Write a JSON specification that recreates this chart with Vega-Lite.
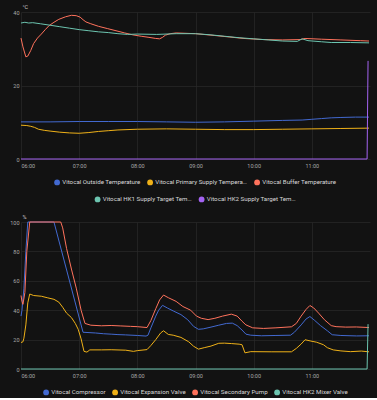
{
  "$schema": "https://vega.github.io/schema/vega-lite/v6.json",
  "background": "#121212",
  "padding": {"left": 9, "top": 4, "right": 8, "bottom": 2},
  "spacing": 11,
  "datasets": {
    "top1": [
      {"s": "Vitocal Outside Temperature", "t": "06:00", "v": 10.1},
      {"s": "Vitocal Outside Temperature", "t": "06:30", "v": 10.1},
      {"s": "Vitocal Outside Temperature", "t": "07:00", "v": 10.2},
      {"s": "Vitocal Outside Temperature", "t": "07:30", "v": 10.2},
      {"s": "Vitocal Outside Temperature", "t": "08:00", "v": 10.2},
      {"s": "Vitocal Outside Temperature", "t": "08:30", "v": 10.1},
      {"s": "Vitocal Outside Temperature", "t": "09:00", "v": 10.0},
      {"s": "Vitocal Outside Temperature", "t": "09:30", "v": 10.1},
      {"s": "Vitocal Outside Temperature", "t": "10:00", "v": 10.3},
      {"s": "Vitocal Outside Temperature", "t": "10:30", "v": 10.5},
      {"s": "Vitocal Outside Temperature", "t": "10:50", "v": 10.6},
      {"s": "Vitocal Outside Temperature", "t": "11:00", "v": 10.8},
      {"s": "Vitocal Outside Temperature", "t": "11:10", "v": 11.0},
      {"s": "Vitocal Outside Temperature", "t": "11:20", "v": 11.2},
      {"s": "Vitocal Outside Temperature", "t": "11:30", "v": 11.3},
      {"s": "Vitocal Outside Temperature", "t": "11:45", "v": 11.4},
      {"s": "Vitocal Outside Temperature", "t": "11:59", "v": 11.4},
      {"s": "Vitocal Primary Supply Temperature", "t": "06:00", "v": 9.2},
      {"s": "Vitocal Primary Supply Temperature", "t": "06:06", "v": 9.1},
      {"s": "Vitocal Primary Supply Temperature", "t": "06:10", "v": 8.9},
      {"s": "Vitocal Primary Supply Temperature", "t": "06:14", "v": 8.6},
      {"s": "Vitocal Primary Supply Temperature", "t": "06:18", "v": 8.1},
      {"s": "Vitocal Primary Supply Temperature", "t": "06:24", "v": 7.8},
      {"s": "Vitocal Primary Supply Temperature", "t": "06:30", "v": 7.6},
      {"s": "Vitocal Primary Supply Temperature", "t": "06:40", "v": 7.3},
      {"s": "Vitocal Primary Supply Temperature", "t": "06:50", "v": 7.1},
      {"s": "Vitocal Primary Supply Temperature", "t": "07:00", "v": 7.0},
      {"s": "Vitocal Primary Supply Temperature", "t": "07:10", "v": 7.2},
      {"s": "Vitocal Primary Supply Temperature", "t": "07:20", "v": 7.5},
      {"s": "Vitocal Primary Supply Temperature", "t": "07:30", "v": 7.7},
      {"s": "Vitocal Primary Supply Temperature", "t": "07:40", "v": 7.9},
      {"s": "Vitocal Primary Supply Temperature", "t": "08:00", "v": 8.1},
      {"s": "Vitocal Primary Supply Temperature", "t": "08:30", "v": 8.2},
      {"s": "Vitocal Primary Supply Temperature", "t": "09:00", "v": 8.1},
      {"s": "Vitocal Primary Supply Temperature", "t": "09:30", "v": 8.0},
      {"s": "Vitocal Primary Supply Temperature", "t": "10:00", "v": 8.0},
      {"s": "Vitocal Primary Supply Temperature", "t": "10:30", "v": 8.1},
      {"s": "Vitocal Primary Supply Temperature", "t": "11:00", "v": 8.2},
      {"s": "Vitocal Primary Supply Temperature", "t": "11:30", "v": 8.3},
      {"s": "Vitocal Primary Supply Temperature", "t": "11:59", "v": 8.4},
      {"s": "Vitocal Buffer Temperature", "t": "06:00", "v": 32.9},
      {"s": "Vitocal Buffer Temperature", "t": "06:02", "v": 30.5},
      {"s": "Vitocal Buffer Temperature", "t": "06:05", "v": 27.8},
      {"s": "Vitocal Buffer Temperature", "t": "06:07", "v": 28.0},
      {"s": "Vitocal Buffer Temperature", "t": "06:10", "v": 29.5},
      {"s": "Vitocal Buffer Temperature", "t": "06:13", "v": 31.4},
      {"s": "Vitocal Buffer Temperature", "t": "06:17", "v": 32.9},
      {"s": "Vitocal Buffer Temperature", "t": "06:21", "v": 34.0},
      {"s": "Vitocal Buffer Temperature", "t": "06:25", "v": 35.2},
      {"s": "Vitocal Buffer Temperature", "t": "06:29", "v": 36.3},
      {"s": "Vitocal Buffer Temperature", "t": "06:34", "v": 37.2},
      {"s": "Vitocal Buffer Temperature", "t": "06:39", "v": 38.0},
      {"s": "Vitocal Buffer Temperature", "t": "06:46", "v": 38.7},
      {"s": "Vitocal Buffer Temperature", "t": "06:52", "v": 39.1},
      {"s": "Vitocal Buffer Temperature", "t": "06:57", "v": 39.0},
      {"s": "Vitocal Buffer Temperature", "t": "07:01", "v": 38.6},
      {"s": "Vitocal Buffer Temperature", "t": "07:04", "v": 37.9},
      {"s": "Vitocal Buffer Temperature", "t": "07:07", "v": 37.3},
      {"s": "Vitocal Buffer Temperature", "t": "07:12", "v": 36.8},
      {"s": "Vitocal Buffer Temperature", "t": "07:20", "v": 36.1},
      {"s": "Vitocal Buffer Temperature", "t": "07:29", "v": 35.5},
      {"s": "Vitocal Buffer Temperature", "t": "07:38", "v": 34.9},
      {"s": "Vitocal Buffer Temperature", "t": "07:47", "v": 34.3},
      {"s": "Vitocal Buffer Temperature", "t": "07:55", "v": 33.8},
      {"s": "Vitocal Buffer Temperature", "t": "08:04", "v": 33.4},
      {"s": "Vitocal Buffer Temperature", "t": "08:12", "v": 33.1},
      {"s": "Vitocal Buffer Temperature", "t": "08:19", "v": 32.8},
      {"s": "Vitocal Buffer Temperature", "t": "08:23", "v": 32.7},
      {"s": "Vitocal Buffer Temperature", "t": "08:26", "v": 33.1},
      {"s": "Vitocal Buffer Temperature", "t": "08:29", "v": 33.7},
      {"s": "Vitocal Buffer Temperature", "t": "08:34", "v": 34.1},
      {"s": "Vitocal Buffer Temperature", "t": "08:40", "v": 34.3},
      {"s": "Vitocal Buffer Temperature", "t": "09:00", "v": 34.1},
      {"s": "Vitocal Buffer Temperature", "t": "09:20", "v": 33.6},
      {"s": "Vitocal Buffer Temperature", "t": "09:35", "v": 33.2},
      {"s": "Vitocal Buffer Temperature", "t": "09:50", "v": 32.8},
      {"s": "Vitocal Buffer Temperature", "t": "10:10", "v": 32.5},
      {"s": "Vitocal Buffer Temperature", "t": "10:30", "v": 32.4},
      {"s": "Vitocal Buffer Temperature", "t": "10:48", "v": 32.5},
      {"s": "Vitocal Buffer Temperature", "t": "10:53", "v": 32.8},
      {"s": "Vitocal Buffer Temperature", "t": "11:10", "v": 32.6},
      {"s": "Vitocal Buffer Temperature", "t": "11:30", "v": 32.4},
      {"s": "Vitocal Buffer Temperature", "t": "11:50", "v": 32.2},
      {"s": "Vitocal Buffer Temperature", "t": "11:59", "v": 32.1}
    ],
    "top2": [
      {"s": "Vitocal HK1 Supply Target Temperature", "t": "06:00", "v": 37.0},
      {"s": "Vitocal HK1 Supply Target Temperature", "t": "06:04", "v": 37.2},
      {"s": "Vitocal HK1 Supply Target Temperature", "t": "06:08", "v": 37.0},
      {"s": "Vitocal HK1 Supply Target Temperature", "t": "06:12", "v": 37.1},
      {"s": "Vitocal HK1 Supply Target Temperature", "t": "06:20", "v": 36.8},
      {"s": "Vitocal HK1 Supply Target Temperature", "t": "06:30", "v": 36.4},
      {"s": "Vitocal HK1 Supply Target Temperature", "t": "06:40", "v": 36.0},
      {"s": "Vitocal HK1 Supply Target Temperature", "t": "06:50", "v": 35.6},
      {"s": "Vitocal HK1 Supply Target Temperature", "t": "07:00", "v": 35.2},
      {"s": "Vitocal HK1 Supply Target Temperature", "t": "07:10", "v": 34.9},
      {"s": "Vitocal HK1 Supply Target Temperature", "t": "07:20", "v": 34.6},
      {"s": "Vitocal HK1 Supply Target Temperature", "t": "07:30", "v": 34.4},
      {"s": "Vitocal HK1 Supply Target Temperature", "t": "07:40", "v": 34.1},
      {"s": "Vitocal HK1 Supply Target Temperature", "t": "07:50", "v": 33.9},
      {"s": "Vitocal HK1 Supply Target Temperature", "t": "08:00", "v": 34.0},
      {"s": "Vitocal HK1 Supply Target Temperature", "t": "08:20", "v": 33.9},
      {"s": "Vitocal HK1 Supply Target Temperature", "t": "08:40", "v": 34.1},
      {"s": "Vitocal HK1 Supply Target Temperature", "t": "09:00", "v": 34.1},
      {"s": "Vitocal HK1 Supply Target Temperature", "t": "09:15", "v": 33.8},
      {"s": "Vitocal HK1 Supply Target Temperature", "t": "09:30", "v": 33.4},
      {"s": "Vitocal HK1 Supply Target Temperature", "t": "09:45", "v": 33.0},
      {"s": "Vitocal HK1 Supply Target Temperature", "t": "10:00", "v": 32.7},
      {"s": "Vitocal HK1 Supply Target Temperature", "t": "10:15", "v": 32.4},
      {"s": "Vitocal HK1 Supply Target Temperature", "t": "10:30", "v": 32.1},
      {"s": "Vitocal HK1 Supply Target Temperature", "t": "10:45", "v": 32.0},
      {"s": "Vitocal HK1 Supply Target Temperature", "t": "10:50", "v": 32.7},
      {"s": "Vitocal HK1 Supply Target Temperature", "t": "10:56", "v": 32.2},
      {"s": "Vitocal HK1 Supply Target Temperature", "t": "11:10", "v": 31.9},
      {"s": "Vitocal HK1 Supply Target Temperature", "t": "11:20", "v": 31.7},
      {"s": "Vitocal HK1 Supply Target Temperature", "t": "11:40", "v": 31.7},
      {"s": "Vitocal HK1 Supply Target Temperature", "t": "11:59", "v": 31.6},
      {"s": "Vitocal HK2 Supply Target Temperature", "t": "06:00", "v": 0},
      {"s": "Vitocal HK2 Supply Target Temperature", "t": "11:57", "v": 0},
      {"s": "Vitocal HK2 Supply Target Temperature", "t": "11:58", "v": 26.7}
    ],
    "bottom": [
      {"s": "Vitocal Compressor", "t": "06:00", "v": 36},
      {"s": "Vitocal Compressor", "t": "06:01", "v": 40},
      {"s": "Vitocal Compressor", "t": "06:03", "v": 55},
      {"s": "Vitocal Compressor", "t": "06:05", "v": 80},
      {"s": "Vitocal Compressor", "t": "06:07", "v": 100},
      {"s": "Vitocal Compressor", "t": "06:34", "v": 100},
      {"s": "Vitocal Compressor", "t": "07:04", "v": 25.0},
      {"s": "Vitocal Compressor", "t": "07:17", "v": 24.5},
      {"s": "Vitocal Compressor", "t": "07:25", "v": 24.0},
      {"s": "Vitocal Compressor", "t": "07:33", "v": 23.7},
      {"s": "Vitocal Compressor", "t": "07:40", "v": 23.4},
      {"s": "Vitocal Compressor", "t": "07:48", "v": 23.2},
      {"s": "Vitocal Compressor", "t": "08:00", "v": 22.8},
      {"s": "Vitocal Compressor", "t": "08:09", "v": 22.4},
      {"s": "Vitocal Compressor", "t": "08:11", "v": 23},
      {"s": "Vitocal Compressor", "t": "08:14", "v": 28},
      {"s": "Vitocal Compressor", "t": "08:19", "v": 36},
      {"s": "Vitocal Compressor", "t": "08:22", "v": 40},
      {"s": "Vitocal Compressor", "t": "08:26", "v": 43.3},
      {"s": "Vitocal Compressor", "t": "08:31", "v": 41.5},
      {"s": "Vitocal Compressor", "t": "08:37", "v": 39.5},
      {"s": "Vitocal Compressor", "t": "08:45", "v": 37},
      {"s": "Vitocal Compressor", "t": "08:52", "v": 33.5},
      {"s": "Vitocal Compressor", "t": "08:58", "v": 29},
      {"s": "Vitocal Compressor", "t": "09:03", "v": 27},
      {"s": "Vitocal Compressor", "t": "09:08", "v": 27.3},
      {"s": "Vitocal Compressor", "t": "09:16", "v": 28.5},
      {"s": "Vitocal Compressor", "t": "09:24", "v": 29.8},
      {"s": "Vitocal Compressor", "t": "09:32", "v": 31},
      {"s": "Vitocal Compressor", "t": "09:38", "v": 31.2},
      {"s": "Vitocal Compressor", "t": "09:43", "v": 29.5},
      {"s": "Vitocal Compressor", "t": "09:48", "v": 26.5},
      {"s": "Vitocal Compressor", "t": "09:52", "v": 23.7},
      {"s": "Vitocal Compressor", "t": "09:57", "v": 23},
      {"s": "Vitocal Compressor", "t": "10:08", "v": 22.6},
      {"s": "Vitocal Compressor", "t": "10:23", "v": 22.8},
      {"s": "Vitocal Compressor", "t": "10:38", "v": 23},
      {"s": "Vitocal Compressor", "t": "10:42", "v": 25},
      {"s": "Vitocal Compressor", "t": "10:49", "v": 30},
      {"s": "Vitocal Compressor", "t": "10:54", "v": 34},
      {"s": "Vitocal Compressor", "t": "10:58", "v": 35.7},
      {"s": "Vitocal Compressor", "t": "11:03", "v": 33},
      {"s": "Vitocal Compressor", "t": "11:09", "v": 29.5},
      {"s": "Vitocal Compressor", "t": "11:16", "v": 26},
      {"s": "Vitocal Compressor", "t": "11:21", "v": 23.3},
      {"s": "Vitocal Compressor", "t": "11:30", "v": 22.8},
      {"s": "Vitocal Compressor", "t": "11:46", "v": 22.5},
      {"s": "Vitocal Compressor", "t": "11:59", "v": 22.6},
      {"s": "Vitocal Expansion Valve", "t": "06:00", "v": 18},
      {"s": "Vitocal Expansion Valve", "t": "06:02", "v": 18.5},
      {"s": "Vitocal Expansion Valve", "t": "06:03", "v": 21},
      {"s": "Vitocal Expansion Valve", "t": "06:05", "v": 30},
      {"s": "Vitocal Expansion Valve", "t": "06:07", "v": 45},
      {"s": "Vitocal Expansion Valve", "t": "06:09", "v": 51},
      {"s": "Vitocal Expansion Valve", "t": "06:13", "v": 50},
      {"s": "Vitocal Expansion Valve", "t": "06:21", "v": 49.5},
      {"s": "Vitocal Expansion Valve", "t": "06:27", "v": 48.5},
      {"s": "Vitocal Expansion Valve", "t": "06:34", "v": 47.4},
      {"s": "Vitocal Expansion Valve", "t": "06:39", "v": 45.5},
      {"s": "Vitocal Expansion Valve", "t": "06:43", "v": 42},
      {"s": "Vitocal Expansion Valve", "t": "06:47", "v": 38},
      {"s": "Vitocal Expansion Valve", "t": "06:52", "v": 35},
      {"s": "Vitocal Expansion Valve", "t": "06:56", "v": 31},
      {"s": "Vitocal Expansion Valve", "t": "06:59", "v": 27},
      {"s": "Vitocal Expansion Valve", "t": "07:02", "v": 20.5},
      {"s": "Vitocal Expansion Valve", "t": "07:05", "v": 12},
      {"s": "Vitocal Expansion Valve", "t": "07:08", "v": 11.5},
      {"s": "Vitocal Expansion Valve", "t": "07:11", "v": 13},
      {"s": "Vitocal Expansion Valve", "t": "07:23", "v": 13},
      {"s": "Vitocal Expansion Valve", "t": "07:33", "v": 13.1},
      {"s": "Vitocal Expansion Valve", "t": "07:48", "v": 12.8},
      {"s": "Vitocal Expansion Valve", "t": "07:56", "v": 12},
      {"s": "Vitocal Expansion Valve", "t": "08:00", "v": 12.5},
      {"s": "Vitocal Expansion Valve", "t": "08:10", "v": 13.2},
      {"s": "Vitocal Expansion Valve", "t": "08:14", "v": 16},
      {"s": "Vitocal Expansion Valve", "t": "08:19", "v": 20},
      {"s": "Vitocal Expansion Valve", "t": "08:24", "v": 24.5},
      {"s": "Vitocal Expansion Valve", "t": "08:27", "v": 26},
      {"s": "Vitocal Expansion Valve", "t": "08:32", "v": 23.5},
      {"s": "Vitocal Expansion Valve", "t": "08:37", "v": 23},
      {"s": "Vitocal Expansion Valve", "t": "08:45", "v": 21.5},
      {"s": "Vitocal Expansion Valve", "t": "08:53", "v": 18.5},
      {"s": "Vitocal Expansion Valve", "t": "08:58", "v": 15.5},
      {"s": "Vitocal Expansion Valve", "t": "09:03", "v": 13.5},
      {"s": "Vitocal Expansion Valve", "t": "09:09", "v": 14.5},
      {"s": "Vitocal Expansion Valve", "t": "09:16", "v": 15.6},
      {"s": "Vitocal Expansion Valve", "t": "09:24", "v": 17.5},
      {"s": "Vitocal Expansion Valve", "t": "09:30", "v": 17.6},
      {"s": "Vitocal Expansion Valve", "t": "09:37", "v": 17.3},
      {"s": "Vitocal Expansion Valve", "t": "09:45", "v": 16.9},
      {"s": "Vitocal Expansion Valve", "t": "09:48", "v": 16.5},
      {"s": "Vitocal Expansion Valve", "t": "09:51", "v": 11},
      {"s": "Vitocal Expansion Valve", "t": "09:57", "v": 11.8},
      {"s": "Vitocal Expansion Valve", "t": "10:18", "v": 11.7},
      {"s": "Vitocal Expansion Valve", "t": "10:39", "v": 11.7},
      {"s": "Vitocal Expansion Valve", "t": "10:44", "v": 14},
      {"s": "Vitocal Expansion Valve", "t": "10:49", "v": 17},
      {"s": "Vitocal Expansion Valve", "t": "10:53", "v": 19.9},
      {"s": "Vitocal Expansion Valve", "t": "10:59", "v": 19},
      {"s": "Vitocal Expansion Valve", "t": "11:05", "v": 18.2},
      {"s": "Vitocal Expansion Valve", "t": "11:12", "v": 16.5},
      {"s": "Vitocal Expansion Valve", "t": "11:16", "v": 14.5},
      {"s": "Vitocal Expansion Valve", "t": "11:22", "v": 13},
      {"s": "Vitocal Expansion Valve", "t": "11:30", "v": 12.3},
      {"s": "Vitocal Expansion Valve", "t": "11:40", "v": 11.8},
      {"s": "Vitocal Expansion Valve", "t": "11:51", "v": 12.2},
      {"s": "Vitocal Expansion Valve", "t": "11:59", "v": 11.7},
      {"s": "Vitocal Secondary Pump", "t": "06:00", "v": 50},
      {"s": "Vitocal Secondary Pump", "t": "06:01", "v": 46},
      {"s": "Vitocal Secondary Pump", "t": "06:02", "v": 44},
      {"s": "Vitocal Secondary Pump", "t": "06:04", "v": 52},
      {"s": "Vitocal Secondary Pump", "t": "06:06", "v": 80},
      {"s": "Vitocal Secondary Pump", "t": "06:09", "v": 100},
      {"s": "Vitocal Secondary Pump", "t": "06:41", "v": 100},
      {"s": "Vitocal Secondary Pump", "t": "06:43", "v": 96},
      {"s": "Vitocal Secondary Pump", "t": "06:47", "v": 82},
      {"s": "Vitocal Secondary Pump", "t": "06:52", "v": 68},
      {"s": "Vitocal Secondary Pump", "t": "06:57", "v": 55},
      {"s": "Vitocal Secondary Pump", "t": "07:02", "v": 40},
      {"s": "Vitocal Secondary Pump", "t": "07:06", "v": 31},
      {"s": "Vitocal Secondary Pump", "t": "07:12", "v": 29.8},
      {"s": "Vitocal Secondary Pump", "t": "07:23", "v": 29.4},
      {"s": "Vitocal Secondary Pump", "t": "07:33", "v": 29.6},
      {"s": "Vitocal Secondary Pump", "t": "07:43", "v": 29.3},
      {"s": "Vitocal Secondary Pump", "t": "07:53", "v": 29.0},
      {"s": "Vitocal Secondary Pump", "t": "08:00", "v": 28.8},
      {"s": "Vitocal Secondary Pump", "t": "08:10", "v": 28.2},
      {"s": "Vitocal Secondary Pump", "t": "08:14", "v": 33},
      {"s": "Vitocal Secondary Pump", "t": "08:19", "v": 41},
      {"s": "Vitocal Secondary Pump", "t": "08:23", "v": 47},
      {"s": "Vitocal Secondary Pump", "t": "08:27", "v": 50.3},
      {"s": "Vitocal Secondary Pump", "t": "08:32", "v": 48.5},
      {"s": "Vitocal Secondary Pump", "t": "08:40", "v": 46},
      {"s": "Vitocal Secondary Pump", "t": "08:47", "v": 42.5},
      {"s": "Vitocal Secondary Pump", "t": "08:55", "v": 40},
      {"s": "Vitocal Secondary Pump", "t": "09:01", "v": 36},
      {"s": "Vitocal Secondary Pump", "t": "09:06", "v": 34.5},
      {"s": "Vitocal Secondary Pump", "t": "09:13", "v": 33.6},
      {"s": "Vitocal Secondary Pump", "t": "09:20", "v": 34.5},
      {"s": "Vitocal Secondary Pump", "t": "09:28", "v": 36},
      {"s": "Vitocal Secondary Pump", "t": "09:37", "v": 37.3},
      {"s": "Vitocal Secondary Pump", "t": "09:43", "v": 36},
      {"s": "Vitocal Secondary Pump", "t": "09:48", "v": 32.5},
      {"s": "Vitocal Secondary Pump", "t": "09:52", "v": 30},
      {"s": "Vitocal Secondary Pump", "t": "09:59", "v": 28},
      {"s": "Vitocal Secondary Pump", "t": "10:10", "v": 27.6},
      {"s": "Vitocal Secondary Pump", "t": "10:23", "v": 28},
      {"s": "Vitocal Secondary Pump", "t": "10:39", "v": 28.7},
      {"s": "Vitocal Secondary Pump", "t": "10:44", "v": 31},
      {"s": "Vitocal Secondary Pump", "t": "10:49", "v": 36},
      {"s": "Vitocal Secondary Pump", "t": "10:54", "v": 40.5},
      {"s": "Vitocal Secondary Pump", "t": "10:58", "v": 43.2},
      {"s": "Vitocal Secondary Pump", "t": "11:02", "v": 41.5},
      {"s": "Vitocal Secondary Pump", "t": "11:07", "v": 38},
      {"s": "Vitocal Secondary Pump", "t": "11:13", "v": 33.5},
      {"s": "Vitocal Secondary Pump", "t": "11:20", "v": 29.5},
      {"s": "Vitocal Secondary Pump", "t": "11:25", "v": 28.8},
      {"s": "Vitocal Secondary Pump", "t": "11:35", "v": 28.5},
      {"s": "Vitocal Secondary Pump", "t": "11:46", "v": 28.6},
      {"s": "Vitocal Secondary Pump", "t": "11:59", "v": 28.2},
      {"s": "Vitocal HK2 Mixer Valve", "t": "06:00", "v": 0},
      {"s": "Vitocal HK2 Mixer Valve", "t": "11:57", "v": 0},
      {"s": "Vitocal HK2 Mixer Valve", "t": "11:58", "v": 30.5}
    ]
  },
  "vconcat": [
    {
      "width": 349,
      "height": 147,
      "layer": [
        {
          "data": {"name": "top1", "format": {"parse": {"t": "date:'%H:%M'"}}},
          "mark": {"type": "line", "strokeWidth": 1},
          "encoding": {
            "x": {"field": "t", "type": "temporal",
              "scale": {"domain": [{"year": 1900, "month": 1, "date": 1, "hours": 6, "minutes": 0}, {"year": 1900, "month": 1, "date": 1, "hours": 12, "minutes": 0}]},
              "axis": {"values": [{"year": 1900, "month": 1, "date": 1, "hours": 6}, {"year": 1900, "month": 1, "date": 1, "hours": 7}, {"year": 1900, "month": 1, "date": 1, "hours": 8}, {"year": 1900, "month": 1, "date": 1, "hours": 9}, {"year": 1900, "month": 1, "date": 1, "hours": 10}, {"year": 1900, "month": 1, "date": 1, "hours": 11}], "format": "%H:%M", "title": null}},
            "y": {"field": "v", "type": "quantitative",
              "scale": {"domain": [0, 40], "nice": false},
              "axis": {"values": [0, 10, 20, 30, 40], "title": "°C"}},
            "color": {"field": "s", "type": "nominal",
              "scale": {"domain": ["Vitocal Outside Temperature", "Vitocal Primary Supply Temperature", "Vitocal Buffer Temperature"], "range": ["#4269d0", "#efb118", "#ff725c"]},
              "legend": {"encode": {"symbols": {"update": {"fill": {"signal": "datum.value === 'Vitocal Outside Temperature' ? '#4269d0' : datum.value === 'Vitocal Primary Supply Temperature' ? '#efb118' : '#ff725c'"}, "strokeWidth": {"value": 0}, "shape": {"value": "circle"}}}}}}
          }
        },
        {
          "data": {"name": "top2", "format": {"parse": {"t": "date:'%H:%M'"}}},
          "mark": {"type": "line", "strokeWidth": 1},
          "encoding": {
            "x": {"field": "t", "type": "temporal"},
            "y": {"field": "v", "type": "quantitative"},
            "stroke": {"field": "s", "type": "nominal",
              "scale": {"domain": ["Vitocal HK1 Supply Target Temperature", "Vitocal HK2 Supply Target Temperature"], "range": ["#6cc5b0", "#a463f2"]},
              "legend": {"encode": {"symbols": {"update": {"fill": {"signal": "datum.value === 'Vitocal HK1 Supply Target Temperature' ? '#6cc5b0' : '#a463f2'"}, "strokeWidth": {"value": 0}, "shape": {"value": "circle"}}}}}}
          }
        }
      ]
    },
    {
      "width": 349,
      "height": 147,
      "data": {"name": "bottom", "format": {"parse": {"t": "date:'%H:%M'"}}},
      "mark": {"type": "line", "strokeWidth": 1},
      "encoding": {
        "x": {"field": "t", "type": "temporal",
          "scale": {"domain": [{"year": 1900, "month": 1, "date": 1, "hours": 6, "minutes": 0}, {"year": 1900, "month": 1, "date": 1, "hours": 12, "minutes": 0}]},
          "axis": {"values": [{"year": 1900, "month": 1, "date": 1, "hours": 6}, {"year": 1900, "month": 1, "date": 1, "hours": 7}, {"year": 1900, "month": 1, "date": 1, "hours": 8}, {"year": 1900, "month": 1, "date": 1, "hours": 9}, {"year": 1900, "month": 1, "date": 1, "hours": 10}, {"year": 1900, "month": 1, "date": 1, "hours": 11}], "format": "%H:%M", "title": null}},
        "y": {"field": "v", "type": "quantitative",
          "scale": {"domain": [0, 100], "nice": false},
          "axis": {"values": [0, 20, 40, 60, 80, 100], "title": "%"}},
        "color": {"field": "s", "type": "nominal", "sort": null,
          "scale": {"domain": ["Vitocal Compressor", "Vitocal Expansion Valve", "Vitocal Secondary Pump", "Vitocal HK2 Mixer Valve"], "range": ["#4269d0", "#efb118", "#ff725c", "#6cc5b0"]},
          "legend": {"encode": {"symbols": {"update": {"fill": {"signal": "datum.value === 'Vitocal Compressor' ? '#4269d0' : datum.value === 'Vitocal Expansion Valve' ? '#efb118' : datum.value === 'Vitocal Secondary Pump' ? '#ff725c' : '#6cc5b0'"}, "strokeWidth": {"value": 0}, "shape": {"value": "circle"}}}}}}
      }
    }
  ],
  "resolve": {
    "scale": {"color": "independent", "stroke": "independent", "x": "independent", "y": "independent"},
    "legend": {"color": "independent", "stroke": "independent"}
  },
  "config": {
    "view": {"stroke": null},
    "font": "Roboto",
    "axis": {
      "labelFont": "Roboto", "labelFontSize": 5.5, "labelColor": "#a8a8a8",
      "gridColor": "#2a2a2a", "gridWidth": 0.7, "domain": false, "ticks": false,
      "titleFont": "Roboto", "titleFontSize": 5.5, "titleColor": "#c8c8c8", "titleFontWeight": "normal"
    },
    "axisX": {"labelPadding": 4},
    "axisY": {"labelPadding": 2, "titleAngle": 0, "titleAlign": "left", "titleBaseline": "bottom", "titleX": 1, "titleY": -3},
    "legend": {
      "orient": "bottom", "direction": "horizontal", "title": null,
      "symbolType": "circle", "symbolSize": 34, "symbolStrokeWidth": 0,
      "labelFont": "Roboto", "labelFontSize": 6.2, "labelColor": "#d8d8d8", "labelLimit": 92,
      "columnPadding": 6, "labelOffset": 2, "offset": 10,
      "layout": {"bottom": {"anchor": "middle", "direction": "vertical", "margin": 10, "center": true}}
    }
  }
}
